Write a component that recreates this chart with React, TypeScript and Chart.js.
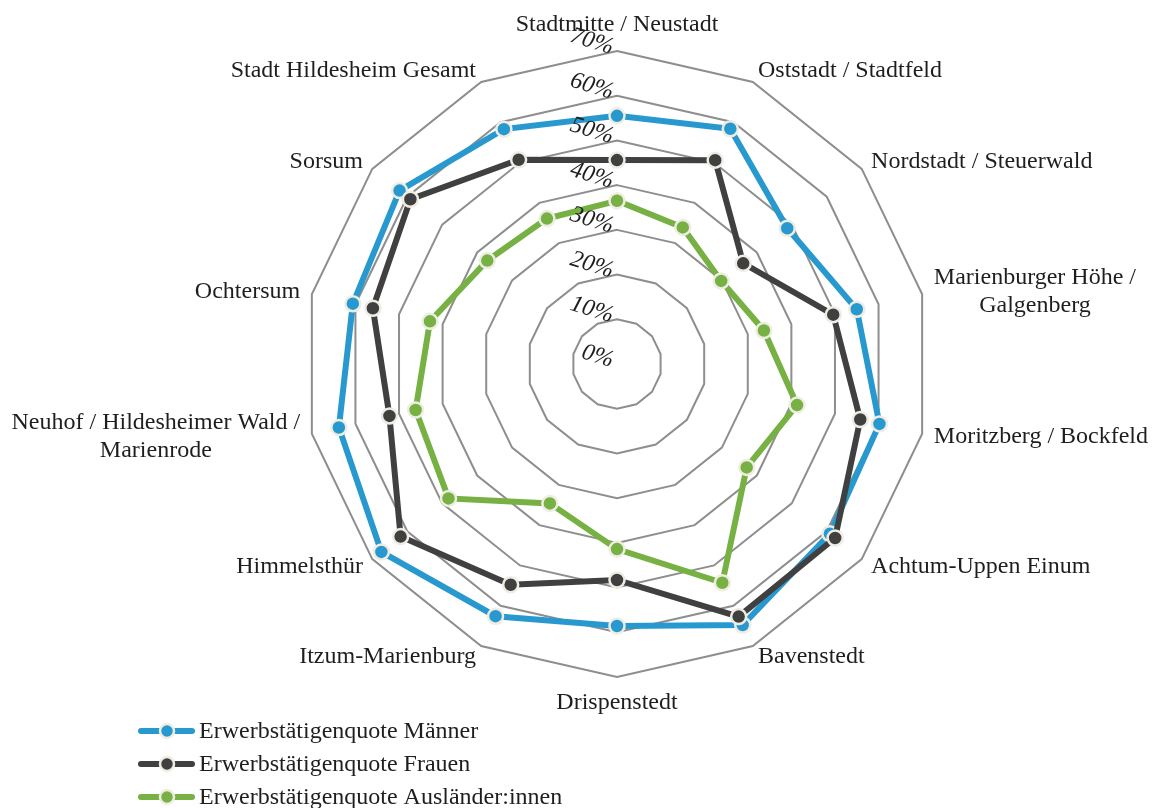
import React, { useEffect, useRef } from "react";
import { Chart, registerables } from "chart.js";

Chart.register(...registerables);

const categories: string[][] = [
  ["Stadtmitte / Neustadt"],
  ["Oststadt / Stadtfeld"],
  ["Nordstadt / Steuerwald"],
  ["Marienburger Höhe /", "Galgenberg"],
  ["Moritzberg / Bockfeld"],
  ["Achtum-Uppen Einum"],
  ["Bavenstedt"],
  ["Drispenstedt"],
  ["Itzum-Marienburg"],
  ["Himmelsthür"],
  ["Neuhof / Hildesheimer Wald /", "Marienrode"],
  ["Ochtersum"],
  ["Sorsum"],
  ["Stadt Hildesheim Gesamt"],
];

const seriesNames = [
  "Erwerbstätigenquote Männer",
  "Erwerbstätigenquote Frauen",
  "Erwerbstätigenquote Ausländer:innen",
];

const maenner = [55.5, 58.4, 48.7, 55.0, 60.2, 60.9, 64.8, 58.6, 62.6, 67.4, 63.8, 60.6, 62.2, 58.3];
const frauen = [45.6, 50.6, 36.1, 49.6, 55.8, 62.4, 62.7, 48.3, 54.8, 61.9, 52.2, 56.0, 59.1, 50.7];
const auslaender = [36.5, 33.9, 29.8, 33.7, 41.3, 37.1, 54.3, 41.4, 34.6, 48.2, 46.2, 42.9, 37.1, 36.1];

const tickValues = [0, 10, 20, 30, 40, 50, 60, 70];

const colors = ["#2899cf", "#404040", "#77b143"];
const pointBorder = "#efede3";
const FONT = '"Liberation Serif", "Times New Roman", serif';

export default function App() {
  const ref = useRef<HTMLCanvasElement | null>(null);

  useEffect(() => {
    if (!ref.current) return;
    const seriesData = [maenner, frauen, auslaender];

    const customDraw = {
      id: "customDraw",
      afterDraw(chart: any) {
        const ctx = chart.ctx as CanvasRenderingContext2D;
        const scale = chart.scales.r;
        const n = categories.length;
        ctx.save();
        // tick labels
        ctx.font = `italic 24px ${FONT}`;
        ctx.fillStyle = "#1e1e1e";
        ctx.textAlign = "right";
        ctx.textBaseline = "middle";
        tickValues.forEach((v) => {
          const r = scale.getDistanceFromCenterForValue(v);
          const x = scale.xCenter - 4;
          const y = scale.yCenter - r - 3;
          ctx.save();
          ctx.translate(x, y);
          ctx.rotate((17 * Math.PI) / 180);
          ctx.fillText(`${v}%`, 0, 0);
          ctx.restore();
        });
        // point labels
        ctx.font = `24px ${FONT}`;
        ctx.fillStyle = "#1e1e1e";
        ctx.textAlign = "center";
        const lh = 28;
        categories.forEach((lines, i) => {
          const p = scale.getPointPosition(i, scale.drawingArea + 12);
          const deg = (i * 360) / n;
          const widths = lines.map((l) => ctx.measureText(l).width);
          const maxW = Math.max(...widths);
          const blockH = lines.length * lh;
          let cx: number;
          let cy: number;
          if (deg === 0) {
            cx = p.x;
            cy = p.y - 14 - (blockH - lh) / 2;
          } else if (deg === 180) {
            cx = p.x;
            cy = p.y + 14 + (blockH - lh) / 2;
          } else if (deg < 180) {
            cx = p.x + maxW / 2;
            cy = p.y;
          } else {
            cx = p.x - maxW / 2;
            cy = p.y;
          }
          lines.forEach((l, k) => {
            const y = cy - blockH / 2 + lh / 2 + k * lh;
            ctx.fillText(l, cx, y);
          });
        });
        // legend
        const lx = 138;
        const ly0 = 731;
        const lgap = 33;
        seriesNames.forEach((name, i) => {
          const y = ly0 + i * lgap;
          ctx.strokeStyle = colors[i];
          ctx.lineWidth = 6;
          ctx.lineCap = "round";
          ctx.beginPath();
          ctx.moveTo(lx + 3, y);
          ctx.lineTo(lx + 54, y);
          ctx.stroke();
          ctx.beginPath();
          ctx.arc(lx + 29, y, 7, 0, Math.PI * 2);
          ctx.fillStyle = colors[i];
          ctx.fill();
          ctx.lineWidth = 2.5;
          ctx.strokeStyle = pointBorder;
          ctx.stroke();
          ctx.fillStyle = "#1e1e1e";
          ctx.textAlign = "left";
          ctx.textBaseline = "middle";
          ctx.fillText(name, lx + 61, y + 1);
        });
        ctx.restore();
      },
    };

    const chart = new Chart(ref.current, {
      type: "radar",
      data: {
        labels: categories,
        datasets: seriesData.map((d, i) => ({
          label: seriesNames[i],
          data: d,
          borderColor: colors[i],
          backgroundColor: colors[i],
          borderWidth: 6,
          fill: false,
          tension: 0,
          pointRadius: 7.5,
          pointBorderWidth: 2.5,
          pointBorderColor: pointBorder,
          pointBackgroundColor: colors[i],
          order: 3 - i,
        })),
      },
      options: {
        responsive: false,
        animation: false,
        layout: { padding: { top: 51, bottom: 131, left: 79, right: 0 } },
        plugins: {
          legend: { display: false },
          tooltip: { enabled: false },
        },
        scales: {
          r: {
            min: 0,
            max: 70,
            ticks: { display: false, stepSize: 10 },
            grid: { color: "#8e8e8e", lineWidth: 2, circular: false },
            angleLines: { display: false },
            pointLabels: { display: false },
          },
        },
      },
      plugins: [customDraw],
    });
    return () => chart.destroy();
  }, []);

  return (
    <div style={{ position: "absolute", left: 0, top: 0, width: 1155, height: 808, background: "#fff" }}>
      <canvas ref={ref} width={1155} height={808} style={{ display: "block" }} />
    </div>
  );
}
